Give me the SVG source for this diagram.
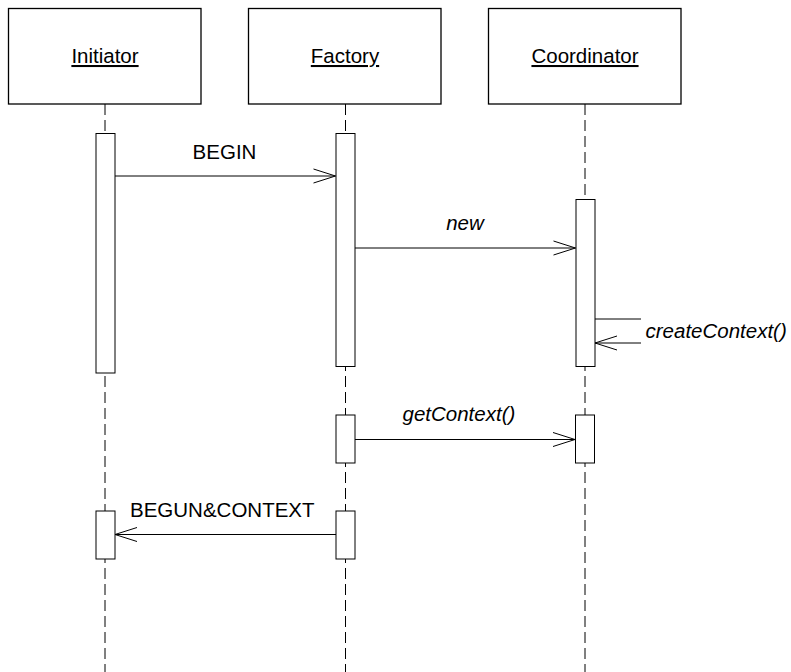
<svg xmlns="http://www.w3.org/2000/svg" width="791" height="672" viewBox="0 0 791 672">
<style>
  .box { fill: #fff; stroke: #000; stroke-width: 1.3; }
  .bar { fill: #fff; stroke: #000; stroke-width: 1; }
  .life { stroke: #000; stroke-width: 1; stroke-dasharray: 11 5; fill: none; }
  .msg { stroke: #000; stroke-width: 1; fill: none; }
  text { font-family: "Liberation Sans", Arial, sans-serif; font-size: 20.5px; fill: #000; }
  .name { text-anchor: middle; text-decoration: underline; }
  .it { font-style: italic; }
</style>
<defs>
  <marker id="open" markerUnits="userSpaceOnUse" markerWidth="30" markerHeight="20" viewBox="-24 -10 26 20" refX="0" refY="0" orient="auto">
    <path d="M-22,-7 L0,0 L-22,7" fill="none" stroke="#000" stroke-width="1"/>
  </marker>
</defs>
<rect width="791" height="672" fill="#fff"/>
<g id="lifelines">
  <line class="life" x1="105" y1="104" x2="105" y2="672"/>
  <line class="life" x1="345.5" y1="104" x2="345.5" y2="672"/>
  <line class="life" x1="585" y1="104" x2="585" y2="672"/>
</g>
<g id="initiator">
  <rect class="box" x="8.5" y="8.5" width="192.5" height="95.5"/>
  <text class="name" x="105" y="63">Initiator</text>
  <rect class="bar" x="96" y="133.5" width="19" height="239.5"/>
  <rect class="bar" x="96" y="511" width="19" height="48"/>
</g>
<g id="factory">
  <rect class="box" x="248.5" y="8.5" width="192.5" height="95.5"/>
  <text class="name" x="345" y="63">Factory</text>
  <rect class="bar" x="336" y="133.5" width="19" height="233"/>
  <rect class="bar" x="336" y="415" width="19" height="48"/>
  <rect class="bar" x="336" y="511" width="19" height="48"/>
</g>
<g id="coordinator">
  <rect class="box" x="488.5" y="8.5" width="192.5" height="95.5"/>
  <text class="name" x="585" y="63">Coordinator</text>
  <rect class="bar" x="576" y="199.5" width="19" height="167"/>
  <rect class="bar" x="575.5" y="415" width="19" height="48"/>
</g>
<g id="connectors">
  <line class="msg" x1="115" y1="176" x2="335.5" y2="176" marker-end="url(#open)"/>
  <line class="msg" x1="355" y1="248" x2="575.5" y2="248" marker-end="url(#open)"/>
  <path class="msg" d="M595,319 H641"/>
  <line class="msg" x1="641" y1="343" x2="595" y2="343" marker-end="url(#open)"/>
  <line class="msg" x1="355" y1="439.5" x2="575" y2="439.5" marker-end="url(#open)"/>
  <line class="msg" x1="336" y1="534.5" x2="115" y2="534.5" marker-end="url(#open)"/>
</g>
<g id="labels">
  <text x="224.5" y="159" text-anchor="middle">BEGIN</text>
  <text class="it" x="465" y="230" text-anchor="middle">new</text>
  <text class="it" x="645.5" y="338">createContext()</text>
  <text class="it" x="402.5" y="421">getContext()</text>
  <text x="130" y="517">BEGUN&amp;CONTEXT</text>
</g>
</svg>
